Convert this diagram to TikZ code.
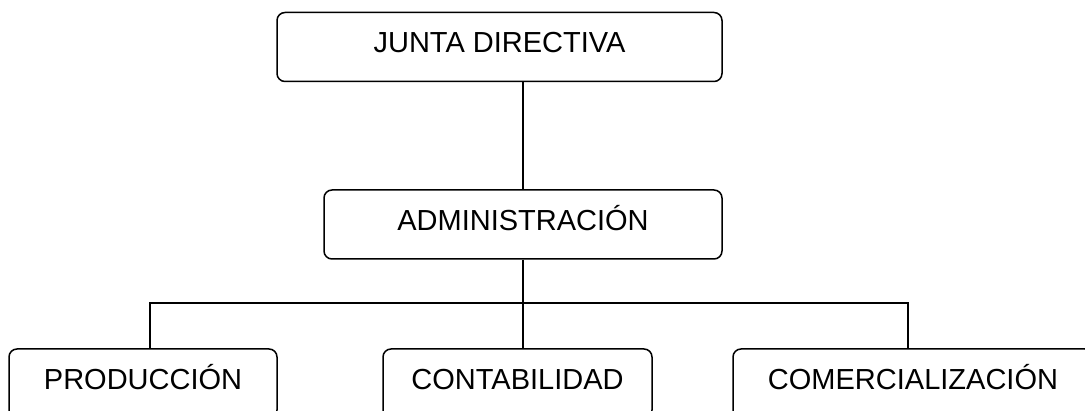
\documentclass[tikz,border=0pt]{standalone}
\usepackage{fontspec}
\setmainfont{Liberation Sans}
\begin{document}
\begin{tikzpicture}[x=1pt,y=-1pt,
  box/.style={draw=black, line width=1.5pt, rounded corners=8pt, inner sep=0pt,
    minimum height=69pt, text height=20.5pt, text depth=8.5pt,
    font=\fontsize{29}{31}\selectfont},
  link/.style={draw=black, line width=1.5pt}]
\useasboundingbox (0,0) rectangle (1085,411);
\clip (0,0) rectangle (1085,411);
\node[box, minimum width=445pt] (jd) at (499.5,47) {JUNTA DIRECTIVA};
\node[box, minimum width=398pt] (adm) at (523,224.5) {ADMINISTRACIÓN};
\node[box, minimum width=268pt] (prod) at (143,383.5) {PRODUCCIÓN};
\node[box, minimum width=269pt] (cont) at (517.5,383.5) {CONTABILIDAD};
\node[box, minimum width=360pt] (com) at (913,383.5) {COMERCIALIZACIÓN};
\coordinate (bus) at (523,303);
\coordinate (pl) at (150,303);
\coordinate (pr) at (908,303);
\draw[link] (adm.north) -- (adm.north |- jd.south);
\draw[link] (adm.south) -- (bus);
\draw[link] (prod.north -| pl) -- (pl) -- (pr) -- (com.north -| pr);
\draw[link] (bus) -- (cont.north -| bus);
\end{tikzpicture}
\end{document}
